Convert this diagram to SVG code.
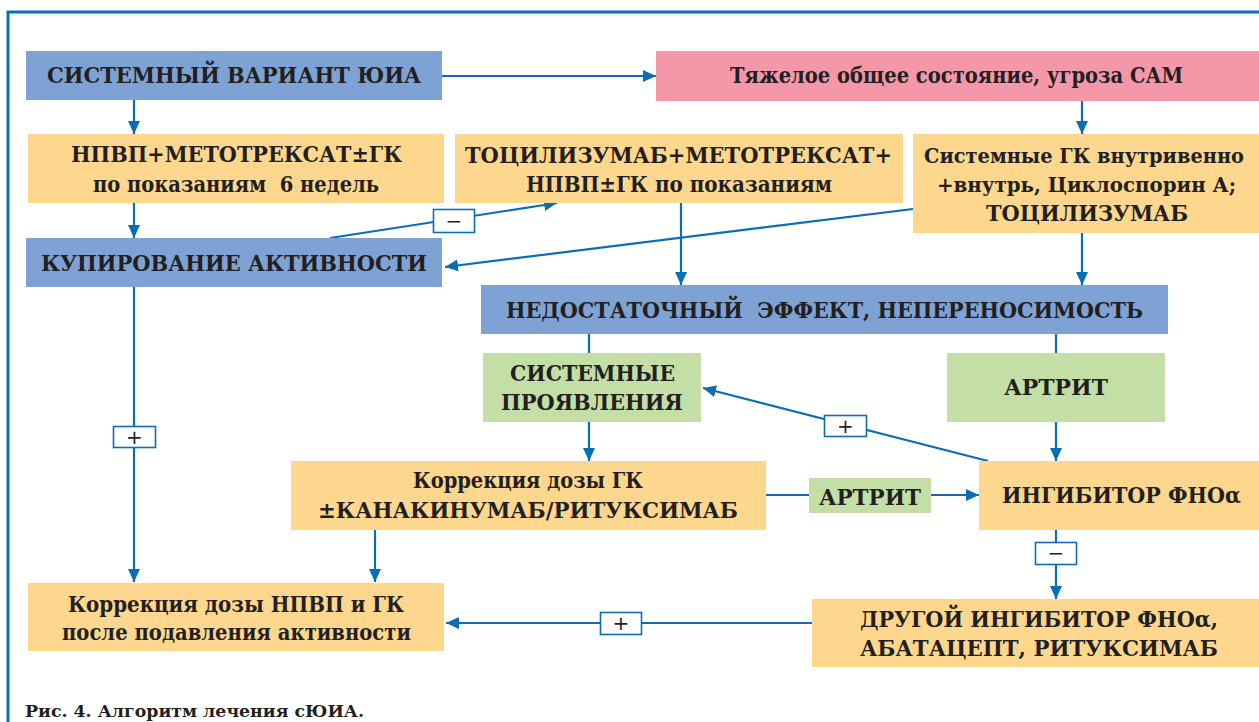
<svg xmlns="http://www.w3.org/2000/svg" width="1259" height="722" viewBox="0 0 1259 722">
<style>
.t{font-family:"DejaVu Serif","Liberation Serif",serif;font-weight:bold;font-size:22px;fill:#231f20;white-space:pre}
.s{font-size:20px}
.blue{fill:#7ea2d4}
.yel{fill:#fdd78d}
.pink{fill:#f497a9}
.green{fill:#c4dfa6}
.c{stroke:#0b6cb8;stroke-width:2.2;fill:none}
.a{marker-end:url(#arr)}
.lb{fill:#fff;stroke:#0b6cb8;stroke-width:1.6}
.lt{font-family:"DejaVu Sans","Liberation Sans",sans-serif;font-size:20px;fill:#231f20;text-anchor:middle}
.cap{font-family:"DejaVu Serif","Liberation Serif",serif;font-weight:bold;font-size:17px;fill:#231f20}
</style>
<defs>
<marker id="arr" markerUnits="userSpaceOnUse" markerWidth="14" markerHeight="12" refX="13" refY="6" orient="auto">
<path d="M0,0 L13,6 L0,12 z" fill="#0b6cb8"/>
</marker>
</defs>
<rect width="1259" height="722" fill="#fff"/>
<path d="M8,724 L8,12 L1262,12" stroke="#0b6cb8" stroke-width="3" fill="none"/>

<g id="connectors">
<path class="c a" d="M442,76 L656,76"/>
<path class="c a" d="M134,100 L134,134"/>
<path class="c a" d="M134,203 L134,238"/>
<path class="c a" d="M134,287 L134,582"/>
<path class="c a" d="M330,238 L557,203"/>
<path class="c a" d="M913,209 L445,267"/>
<path class="c a" d="M681,203 L681,285"/>
<path class="c a" d="M1082,101 L1082,134"/>
<path class="c a" d="M1082,233 L1082,285"/>
<path class="c" d="M589,334 L589,353"/>
<path class="c" d="M1056,334 L1056,353"/>
<path class="c a" d="M589,422 L589,461"/>
<path class="c a" d="M1056,422 L1056,461"/>
<path class="c a" d="M988,461 L703,388"/>
<path class="c a" d="M766,495 L979,495"/>
<path class="c a" d="M375,530 L375,582"/>
<path class="c a" d="M1056,530 L1056,599"/>
<path class="c a" d="M812,623 L446,623"/>
<g id="lbl-plus-left"><rect class="lb" x="113.5" y="426.5" width="42" height="21"/><text class="lt" x="134.5" y="444">+</text></g>
<g id="lbl-minus-top"><rect class="lb" x="433.5" y="209.5" width="41" height="23"/><text class="lt" x="454" y="228">−</text></g>
<g id="lbl-plus-mid"><rect class="lb" x="824.5" y="415.5" width="42" height="21"/><text class="lt" x="845.5" y="433">+</text></g>
<g id="lbl-minus-right"><rect class="lb" x="1035.5" y="542.5" width="41" height="22"/><text class="lt" x="1056" y="560">−</text></g>
<g id="lbl-plus-bottom"><rect class="lb" x="600.5" y="612.5" width="41" height="22"/><text class="lt" x="621" y="630">+</text></g>
</g>

<g id="n-sys">
<rect class="blue" x="26" y="51" width="416" height="49"/>
<text class="t" x="47" y="83" textLength="374" lengthAdjust="spacingAndGlyphs">СИСТЕМНЫЙ ВАРИАНТ ЮИА</text>
</g>
<g id="n-npvp">
<rect class="yel" x="28" y="134" width="416" height="69"/>
<text class="t" x="71" y="162" textLength="331" lengthAdjust="spacingAndGlyphs">НПВП+МЕТОТРЕКСАТ±ГК</text>
<text class="t" x="93" y="192" textLength="286" lengthAdjust="spacingAndGlyphs">по показаниям  6 недель</text>
</g>
<g id="n-kup">
<rect class="blue" x="26" y="238" width="416" height="49"/>
<text class="t" x="41" y="271" textLength="386" lengthAdjust="spacingAndGlyphs">КУПИРОВАНИЕ АКТИВНОСТИ</text>
</g>
<g id="n-toci">
<rect class="yel" x="455" y="134" width="448" height="69"/>
<text class="t" x="465" y="163" textLength="427" lengthAdjust="spacingAndGlyphs">ТОЦИЛИЗУМАБ+МЕТОТРЕКСАТ+</text>
<text class="t" x="526" y="192" textLength="306" lengthAdjust="spacingAndGlyphs">НПВП±ГК по показаниям</text>
</g>
<g id="n-severe">
<rect class="pink" x="656" y="51" width="603" height="50"/>
<text class="t" x="730" y="83" textLength="453" lengthAdjust="spacingAndGlyphs">Тяжелое общее состояние, угроза САМ</text>
</g>
<g id="n-sysgk">
<rect class="yel" x="913" y="134" width="346" height="99"/>
<text class="t s" x="924" y="163" textLength="320" lengthAdjust="spacingAndGlyphs">Системные ГК внутривенно</text>
<text class="t s" x="937" y="192" textLength="299" lengthAdjust="spacingAndGlyphs">+внутрь, Циклоспорин А;</text>
<text class="t" x="986" y="221" textLength="202" lengthAdjust="spacingAndGlyphs">ТОЦИЛИЗУМАБ</text>
</g>
<g id="n-nedost">
<rect class="blue" x="481" y="285" width="687" height="49"/>
<text class="t" x="506" y="318" textLength="637" lengthAdjust="spacingAndGlyphs">НЕДОСТАТОЧНЫЙ  ЭФФЕКТ, НЕПЕРЕНОСИМОСТЬ</text>
</g>
<g id="n-sysman">
<rect class="green" x="483" y="353" width="218" height="69"/>
<text class="t" x="510" y="381" textLength="165" lengthAdjust="spacingAndGlyphs">СИСТЕМНЫЕ</text>
<text class="t" x="501" y="410" textLength="182" lengthAdjust="spacingAndGlyphs">ПРОЯВЛЕНИЯ</text>
</g>
<g id="n-artrit1">
<rect class="green" x="947" y="353" width="218" height="69"/>
<text class="t" x="1004" y="395" textLength="104" lengthAdjust="spacingAndGlyphs">АРТРИТ</text>
</g>
<g id="n-corrgk">
<rect class="yel" x="291" y="461" width="475" height="69"/>
<text class="t" x="413" y="488" textLength="230" lengthAdjust="spacingAndGlyphs">Коррекция дозы ГК</text>
<text class="t" x="318" y="518" textLength="420" lengthAdjust="spacingAndGlyphs">±КАНАКИНУМАБ/РИТУКСИМАБ</text>
</g>
<g id="n-artrit2">
<rect class="green" x="809" y="478" width="122" height="35"/>
<text class="t" x="819" y="505" textLength="102" lengthAdjust="spacingAndGlyphs">АРТРИТ</text>
</g>
<g id="n-tnf">
<rect class="yel" x="979" y="461" width="280" height="69"/>
<text class="t" x="1002" y="503" textLength="239" lengthAdjust="spacingAndGlyphs">ИНГИБИТОР ФНОα</text>
</g>
<g id="n-other">
<rect class="yel" x="812" y="599" width="447" height="68"/>
<text class="t" x="860" y="627" textLength="358" lengthAdjust="spacingAndGlyphs">ДРУГОЙ ИНГИБИТОР ФНОα,</text>
<text class="t" x="860" y="656" textLength="358" lengthAdjust="spacingAndGlyphs">АБАТАЦЕПТ, РИТУКСИМАБ</text>
</g>
<g id="n-corrnpvp">
<rect class="yel" x="28" y="583" width="416" height="68"/>
<text class="t" x="68" y="612" textLength="336" lengthAdjust="spacingAndGlyphs">Коррекция дозы НПВП и ГК</text>
<text class="t" x="62" y="640" textLength="349" lengthAdjust="spacingAndGlyphs">после подавления активности</text>
</g>
<text class="cap" x="25" y="717" textLength="339" lengthAdjust="spacingAndGlyphs">Рис. 4. Алгоритм лечения сЮИА.</text>
</svg>
